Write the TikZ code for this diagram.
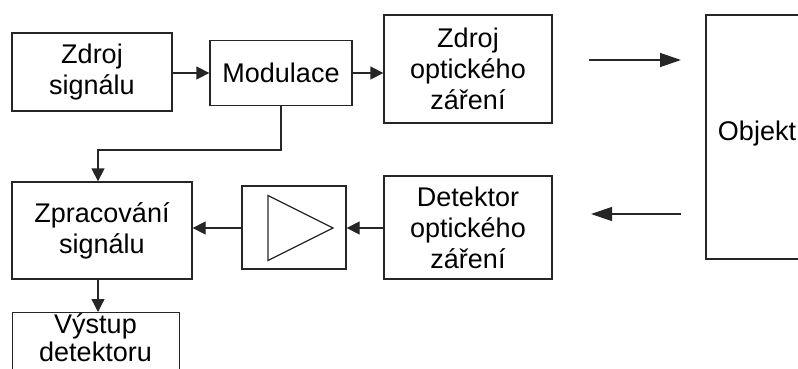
\documentclass[tikz,border=0pt]{standalone}
\usepackage{fontspec}
\setmainfont{Liberation Sans}
\usetikzlibrary{arrows.meta}
\begin{document}
\begin{tikzpicture}[x=1pt,y=-1pt,
  line width=1.3pt,
  blk/.style={draw=black!85, inner sep=0pt, align=center,
    font=\fontsize{27}{31}\selectfont},
  arr/.style={draw=black!85, -{Triangle[length=13pt,width=13pt]}},
  beam/.style={draw=black!85, -{Triangle[length=21pt,width=14pt]}}]
\useasboundingbox (0,0) rectangle (798,369);
\clip (0,0) rectangle (798,369);

% upper chain: signal source, modulation, optical source
\node[blk, minimum width=160pt, minimum height=78pt] (zs) at (92,72) {Zdroj\\signálu};
\node[blk, minimum width=142pt, minimum height=65pt] (mod) at (281,73) {Modulace};
\node[blk, minimum width=168pt, minimum height=108pt] (zo) at (468,69) {Zdroj\\optického\\záření};

% measured object
\node[blk, minimum width=100pt, minimum height=244pt] (obj) at (756,137) {};
\node[font=\fontsize{27}{31}\selectfont, inner sep=0pt] (objt) at (757,134) {Objekt};

% lower chain: detector, amplifier, processing, output
\node[blk, minimum width=168pt, minimum height=103pt] (det) at (468,227.5) {Detektor\\optického\\záření};
\node[blk, minimum width=104pt, minimum height=83pt] (amp) at (294,227.5) {};
\node[blk, minimum width=180pt, minimum height=97pt] (zp) at (102,230.5) {Zpracování\\signálu};
\node[blk, minimum width=167pt, minimum height=90pt, anchor=north west] (out) at (12,312) {};
\node[font=\fontsize{27}{28}\selectfont, align=center, inner sep=0pt, anchor=north] (outt) at (95.5,313) {Výstup\\detektoru};

% amplifier symbol
\draw[black!85] ([shift={(-26,-32)}]amp.center) -- ([shift={(39,0.5)}]amp.center)
  -- ([shift={(-26,33)}]amp.center) -- cycle;

% free-space optical paths
\coordinate (txa) at (589,60);
\coordinate (txb) at (681,60);
\coordinate (rxa) at (681,214);
\coordinate (rxb) at (591,214);
\draw[beam] (txa) -- (txb);
\draw[beam] (rxa) -- (rxb);

% signal connectors
\draw[arr] (zs.east |- 0,73) -- (mod.west |- 0,73);
\draw[arr] (mod.east |- 0,73) -- (zo.west |- 0,73);
\coordinate (bend) at (98,150);
\draw[arr] (mod.south) |- (bend) -- (zp.north -| bend);
\draw[arr] (det.west |- 0,228) -- (amp.east |- 0,228);
\draw[arr] (amp.west |- 0,228) -- (zp.east |- 0,228);
\draw[arr] (zp.south -| bend) -- (out.north -| bend);
\end{tikzpicture}
\end{document}
